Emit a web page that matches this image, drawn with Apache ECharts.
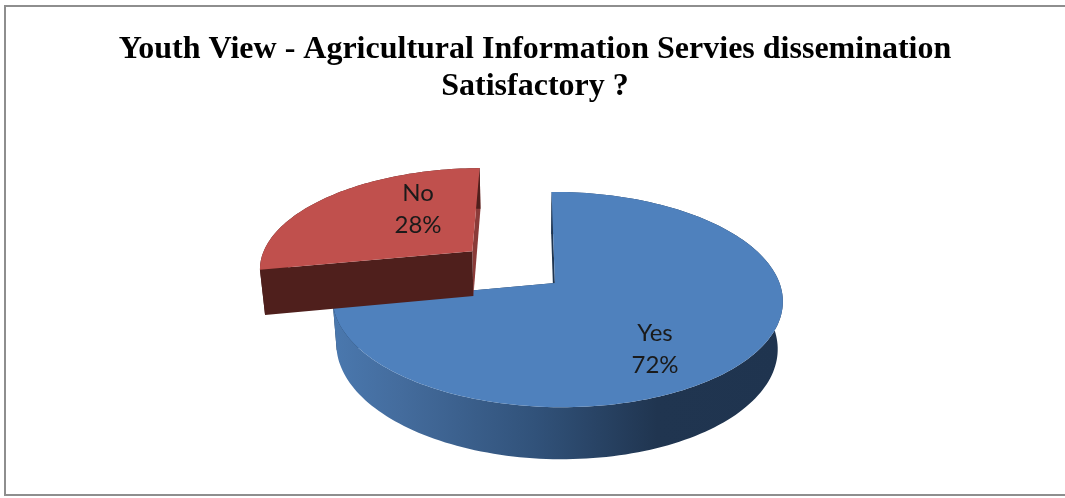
<!DOCTYPE html>
<html>
<head>
<meta charset="utf-8">
<style>html,body{margin:0;padding:0;background:#fff}#chart{width:1065px;height:498px}</style>
<script src="https://cdn.jsdelivr.net/npm/echarts@6/dist/echarts.min.js"></script>
</head>
<body>
<div id="chart"></div>
<script>
// Survey answers
const categories = ['Yes', 'No'];
const shares = [72, 28];
const titleLines = ['Youth View - Agricultural Information Servies dissemination', 'Satisfactory ?'];

// Slice appearance, in the order of the categories
const topColors = ['#4f81bd', '#c0504d'];
const startCutColors = ['#1f3550', '#4f1f1c'];
const endCutColors = ['#1f3550', '#8a3b39'];
const explode = [0, 0.5];
const labelAnchors = [[655, 349], [418, 209]];

// Perspective camera for the tilted disc
const cam = { x0: 530, y0: 283, a: 222, b: 105, h: 47.5, p: 0.1535, q: 0.0095, r: 0.02, discX: 0.112 };

function project(X, Y, Z) {
  const wx = X + cam.discX;
  const w = 1 - cam.p * Y - cam.q * wx + cam.r * Z;
  return [cam.x0 + cam.a * wx / w, cam.y0 + (cam.b * Y + cam.h * Z) / w];
}

function arc(cx, cy, from, to, Z) {
  const pts = [];
  const n = Math.max(2, Math.ceil((to - from) / (Math.PI / 120)));
  for (let i = 0; i <= n; i++) {
    const t = from + (to - from) * i / n;
    pts.push(project(cx + Math.sin(t), cy - Math.cos(t), Z));
  }
  return pts;
}

const total = shares.reduce((s, v) => s + v, 0);

function renderSlice(params, api) {
  const i = params.dataIndex;
  const before = shares.slice(0, i).reduce((s, v) => s + v, 0);
  const from = before / total * Math.PI * 2;
  const to = (before + api.value(1)) / total * Math.PI * 2;
  const mid = (from + to) / 2;
  const cx = Math.sin(mid) * explode[i];
  const cy = -Math.cos(mid) * explode[i];

  const topRim = arc(cx, cy, from, to, 0);
  const lowRim = arc(cx, cy, from, to, 1);
  const apexTop = project(cx, cy, 0);
  const apexLow = project(cx, cy, 1);

  const wallFill = i === 0
    ? new echarts.graphic.LinearGradient(0, 0, 1, 0, [
        { offset: 0, color: '#4a78ae' },
        { offset: 0.15, color: '#446c9d' },
        { offset: 0.45, color: '#31527a' },
        { offset: 0.72, color: '#203550' },
        { offset: 1, color: '#1f344f' }
      ])
    : '#4f1f1c';

  const face = (points, fill) => ({ type: 'polygon', shape: { points }, style: { fill } });
  const children = [
    // back to front: closing cut, rim wall, opening cut, lid
    face([apexTop, topRim[topRim.length - 1], lowRim[lowRim.length - 1], apexLow], endCutColors[i]),
    face(topRim.concat(lowRim.slice().reverse()), wallFill),
    face([apexTop, topRim[0], lowRim[0], apexLow], startCutColors[i]),
    face([apexTop].concat(topRim), topColors[i]),
    {
      type: 'text',
      z2: 10,
      style: {
        x: labelAnchors[i][0],
        y: labelAnchors[i][1],
        text: categories[i] + '\n' + api.value(1) + '%',
        font: '24px Lato, "Open Sans", sans-serif',
        lineHeight: 32,
        fill: '#1a1a1a',
        align: 'center',
        verticalAlign: 'middle'
      }
    }
  ];
  return { type: 'group', children };
}

const chart = echarts.init(document.getElementById('chart'), null, { renderer: 'canvas' });
chart.setOption({
  animation: false,
  backgroundColor: '#ffffff',
  title: {
    text: titleLines.join('\n'),
    left: 530,
    top: 26,
    textAlign: 'center',
    textStyle: {
      fontFamily: '"Liberation Serif", serif',
      fontWeight: 'bold',
      fontSize: 32,
      lineHeight: 37,
      color: '#000000'
    }
  },
  graphic: [{
    type: 'polyline',
    silent: true,
    shape: { points: [[1065, 6], [5, 6], [5, 495], [1065, 495]] },
    style: { stroke: '#8e8e8e', lineWidth: 2, fill: null }
  }],
  series: [{
    type: 'custom',
    coordinateSystem: 'none',
    silent: true,
    // the exploded slice sits behind the main one
    data: categories.map((c, i) => [c, shares[i]]),
    renderItem: renderSlice,
    z: 2
  }]
});
</script>
</body>
</html>
